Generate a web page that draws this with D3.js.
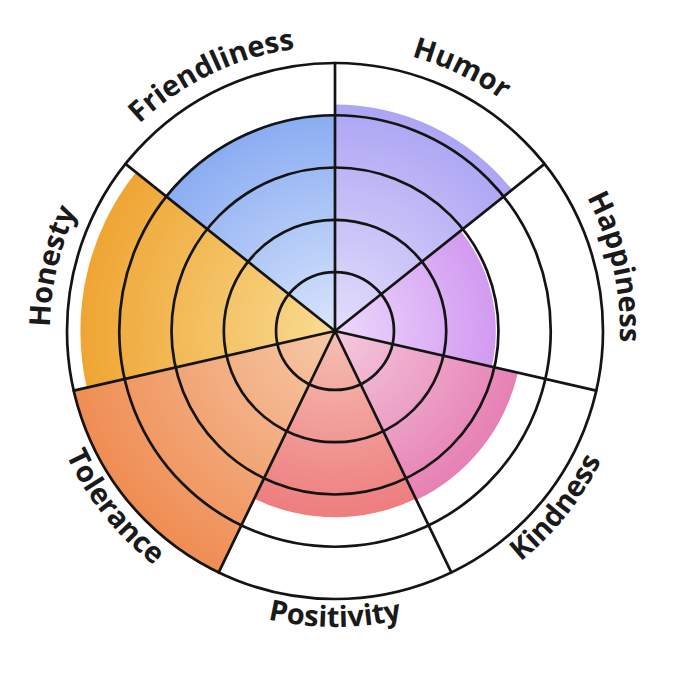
<!DOCTYPE html>
<html>
<head>
<meta charset="utf-8">
<script src="https://cdn.jsdelivr.net/npm/d3@7"></script>
<style>
  html, body { margin: 0; padding: 0; background: #fff; }
  svg { display: block; }
</style>
</head>
<body>
<div id="chart"></div>
<script>
// Categories, clockwise from the top
var categories = ['Humor', 'Happiness', 'Kindness', 'Positivity', 'Tolerance', 'Honesty', 'Friendliness'];
// Values on a 0-10 scale
var values = [8.45, 6.0, 7.0, 6.95, 10, 9.5, 8.1];
// Ring levels of the grid
var ringLevels = [2.2, 4.15, 6.1, 8.05, 10];
// Colours: inner (centre) and outer tint of each sector
var innerColors = ['#e3defb', '#ecd9fb', '#f4cadd', '#f5c0b2', '#f6c9a8', '#f9dc92', '#d8e5fc'];
var outerColors = ['#aca5f4', '#d29af1', '#e680b4', '#ee7d7f', '#ef8d53', '#efa533', '#8aacf2'];

var width = 680, height = 680;
var cx = 335, cy = 331;

var svg = d3.select('#chart').append('svg')
    .attr('width', width)
    .attr('height', height);

var defs = svg.append('defs');

var g = svg.append('g').attr('transform', 'translate(' + cx + ',' + cy + ')');

// Radius scale
var r = d3.scaleLinear().domain([0, 10]).range([0, 268]);

var n = categories.length;
var step = 2 * Math.PI / n;

// Gradients, one per sector
categories.forEach(function (c, i) {
    var grad = defs.append('radialGradient')
        .attr('id', 'grad-' + i)
        .attr('gradientUnits', 'userSpaceOnUse')
        .attr('cx', 0).attr('cy', 0)
        .attr('r', r(values[i]));
    grad.append('stop').attr('offset', '0%').attr('stop-color', innerColors[i]);
    grad.append('stop').attr('offset', '100%').attr('stop-color', outerColors[i]);
});

var arc = d3.arc()
    .innerRadius(0)
    .outerRadius(function (d) { return r(d.value); })
    .startAngle(function (d) { return d.index * step; })
    .endAngle(function (d) { return (d.index + 1) * step; });

var sectors = categories.map(function (c, i) {
    return { name: c, value: values[i], index: i };
});

// Filled sectors
g.selectAll('.sector')
    .data(sectors)
    .enter()
    .append('path')
    .attr('class', 'sector')
    .attr('d', arc)
    .style('fill', function (d) { return 'url(#grad-' + d.index + ')'; });

// Grid rings
g.selectAll('.ring')
    .data(ringLevels)
    .enter()
    .append('circle')
    .attr('class', 'ring')
    .attr('r', function (d) { return r(d); })
    .style('fill', 'none')
    .style('stroke', '#141414')
    .style('stroke-width', 2.7);

// Spokes
g.selectAll('.spoke')
    .data(sectors)
    .enter()
    .append('line')
    .attr('class', 'spoke')
    .attr('x1', 0).attr('y1', 0)
    .attr('x2', function (d) { return r(10) * Math.sin(d.index * step); })
    .attr('y2', function (d) { return -r(10) * Math.cos(d.index * step); })
    .style('stroke', '#141414')
    .style('stroke-width', 2.7)
    .style('stroke-linecap', 'round');

// Curved labels (paths live in the same translated frame as the text)
var span = 1.0; // radians either side of the sector centre
sectors.forEach(function (d) {
    var mid = (d.index + 0.5) * step;
    var p = d3.path();
    var topSide = Math.cos(mid) > -0.1;
    if (topSide) {
        // clockwise, letters facing outward
        p.arc(0, 0, 285, mid - span - Math.PI / 2, mid + span - Math.PI / 2, false);
    } else {
        // anticlockwise, letters facing the centre
        p.arc(0, 0, 296, mid + span - Math.PI / 2, mid - span - Math.PI / 2, true);
    }
    defs.append('path')
        .attr('id', 'label-path-' + d.index)
        .attr('d', p.toString());

    g.append('text')
        .style('font-family', '"Open Sans", sans-serif')
        .style('font-weight', 700)
        .style('font-size', '29px')
        .style('fill', '#1a1a1a')
        .append('textPath')
        .attr('href', '#label-path-' + d.index)
        .attr('startOffset', '50%')
        .attr('text-anchor', 'middle')
        .text(d.name);
});
</script>
</body>
</html>
